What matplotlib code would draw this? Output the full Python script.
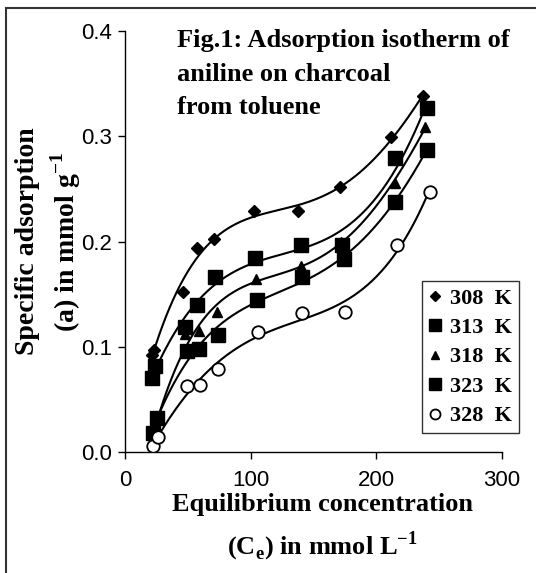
import numpy as np
import matplotlib
matplotlib.use('Agg')
import matplotlib.pyplot as plt
from matplotlib.patches import Rectangle

# ── data ───────────────────────────────────────────────────────────────────
ce_308 = [21.2, 23.1, 46.5, 57.6, 71.1, 102.7, 138.0, 171.2, 211.6, 237.1]
a_308 = [0.092, 0.097, 0.152, 0.194, 0.202, 0.229, 0.229, 0.252, 0.299, 0.338]

ce_313 = [21.2, 23.9, 47.8, 57.6, 71.7, 103.5, 140.2, 172.6, 214.5, 240.2]
a_313 = [0.070, 0.082, 0.119, 0.140, 0.166, 0.184, 0.197, 0.197, 0.279, 0.327]

ce_318 = [22.0, 25.0, 47.5, 59.2, 73.0, 104.3, 140.2, 172.0, 214.5, 239.0]
a_318 = [0.017, 0.022, 0.112, 0.115, 0.133, 0.164, 0.177, 0.200, 0.256, 0.309]

ce_323 = [22.0, 25.2, 49.0, 59.2, 73.8, 105.4, 140.7, 174.4, 214.5, 240.0]
a_323 = [0.018, 0.032, 0.096, 0.098, 0.111, 0.144, 0.166, 0.183, 0.238, 0.287]

ce_328 = [22.5, 26.0, 49.0, 59.7, 74.3, 106.0, 140.7, 174.7, 216.4, 242.4]
a_328 = [0.006, 0.014, 0.063, 0.064, 0.079, 0.114, 0.132, 0.133, 0.197, 0.247]

series = [
    ('308  K', ce_308, a_308, dict(marker='D', ms=6, mfc='black', mec='black')),
    ('313  K', ce_313, a_313, dict(marker='s', ms=10, mfc='black', mec='black')),
    ('318  K', ce_318, a_318, dict(marker='^', ms=7, mfc='black', mec='black')),
    ('323  K', ce_323, a_323, dict(marker='s', ms=10, mfc='black', mec='black')),
    ('328  K', ce_328, a_328, dict(marker='o', ms=9, mfc='white', mec='black', mew=1.3)),
]

serif = 'Liberation Serif'
plt.rcParams['font.family'] = 'Liberation Sans'

fig = plt.figure(figsize=(5.36, 5.73), dpi=100)
ax = fig.add_axes([125 / 536, 1 - 452 / 573, 377 / 536, 421 / 573])

for label, x, y, style in series:
    x = np.array(x)
    y = np.array(y)
    # smooth trend line through each isotherm
    coef = np.polyfit(x, y, 4)
    xs = np.linspace(x.min(), x.max(), 300)
    ax.plot(xs, np.polyval(coef, xs), color='black', linewidth=1.5, zorder=2)
    ax.plot(x, y, linestyle='none', label=label, zorder=3, **style)

ax.set_xlim(0, 300)
ax.set_ylim(0, 0.4)
ax.set_xticks([0, 100, 200, 300])
ax.set_yticks([0.0, 0.1, 0.2, 0.3, 0.4])
ax.set_yticklabels(['0.0', '0.1', '0.2', '0.3', '0.4'])
ax.tick_params(direction='out', length=5, width=1, labelsize=16)
ax.tick_params(axis='x', pad=8)
ax.tick_params(axis='y', pad=4)
for side in ['top', 'right']:
    ax.spines[side].set_visible(False)
for side in ['left', 'bottom']:
    ax.spines[side].set_linewidth(1)

ax.set_xlabel('Equilibrium concentration\n(C$_\\mathregular{e}$) in mmol L$^\\mathregular{-1}$',
              fontfamily=serif, fontweight='bold', fontsize=19, linespacing=1.55)
ax.xaxis.set_label_coords(0.523, -0.097)
ax.set_ylabel('Specific adsorption\n(a) in mmol g$^\\mathregular{-1}$',
              fontfamily=serif, fontweight='bold', fontsize=20, linespacing=1.3)
ax.yaxis.set_label_coords(-0.112, 0.5)

ax.text(0.138, 1.005, 'Fig.1: Adsorption isotherm of\naniline on charcoal\nfrom toluene',
        transform=ax.transAxes, ha='left', va='top', fontfamily=serif,
        fontweight='bold', fontsize=19, linespacing=1.6)

leg = ax.legend(loc='lower right', bbox_to_anchor=(1.045, 0.045), frameon=True,
                fancybox=False, prop={'family': serif, 'weight': 'bold', 'size': 16},
                handlelength=0.6, handletextpad=0.4, borderpad=0.3, labelspacing=0.4,
                borderaxespad=0, markerscale=0.8)
leg.get_frame().set_edgecolor('black')
leg.get_frame().set_linewidth(1)

# outer frame of the figure panel
fig.patches.append(Rectangle((6 / 536, -0.1), 1.2, 1.1 - 8 / 573,
                             transform=fig.transFigure, fill=False,
                             edgecolor='#333333', linewidth=1.5))

fig.savefig('out.png', dpi=100)
